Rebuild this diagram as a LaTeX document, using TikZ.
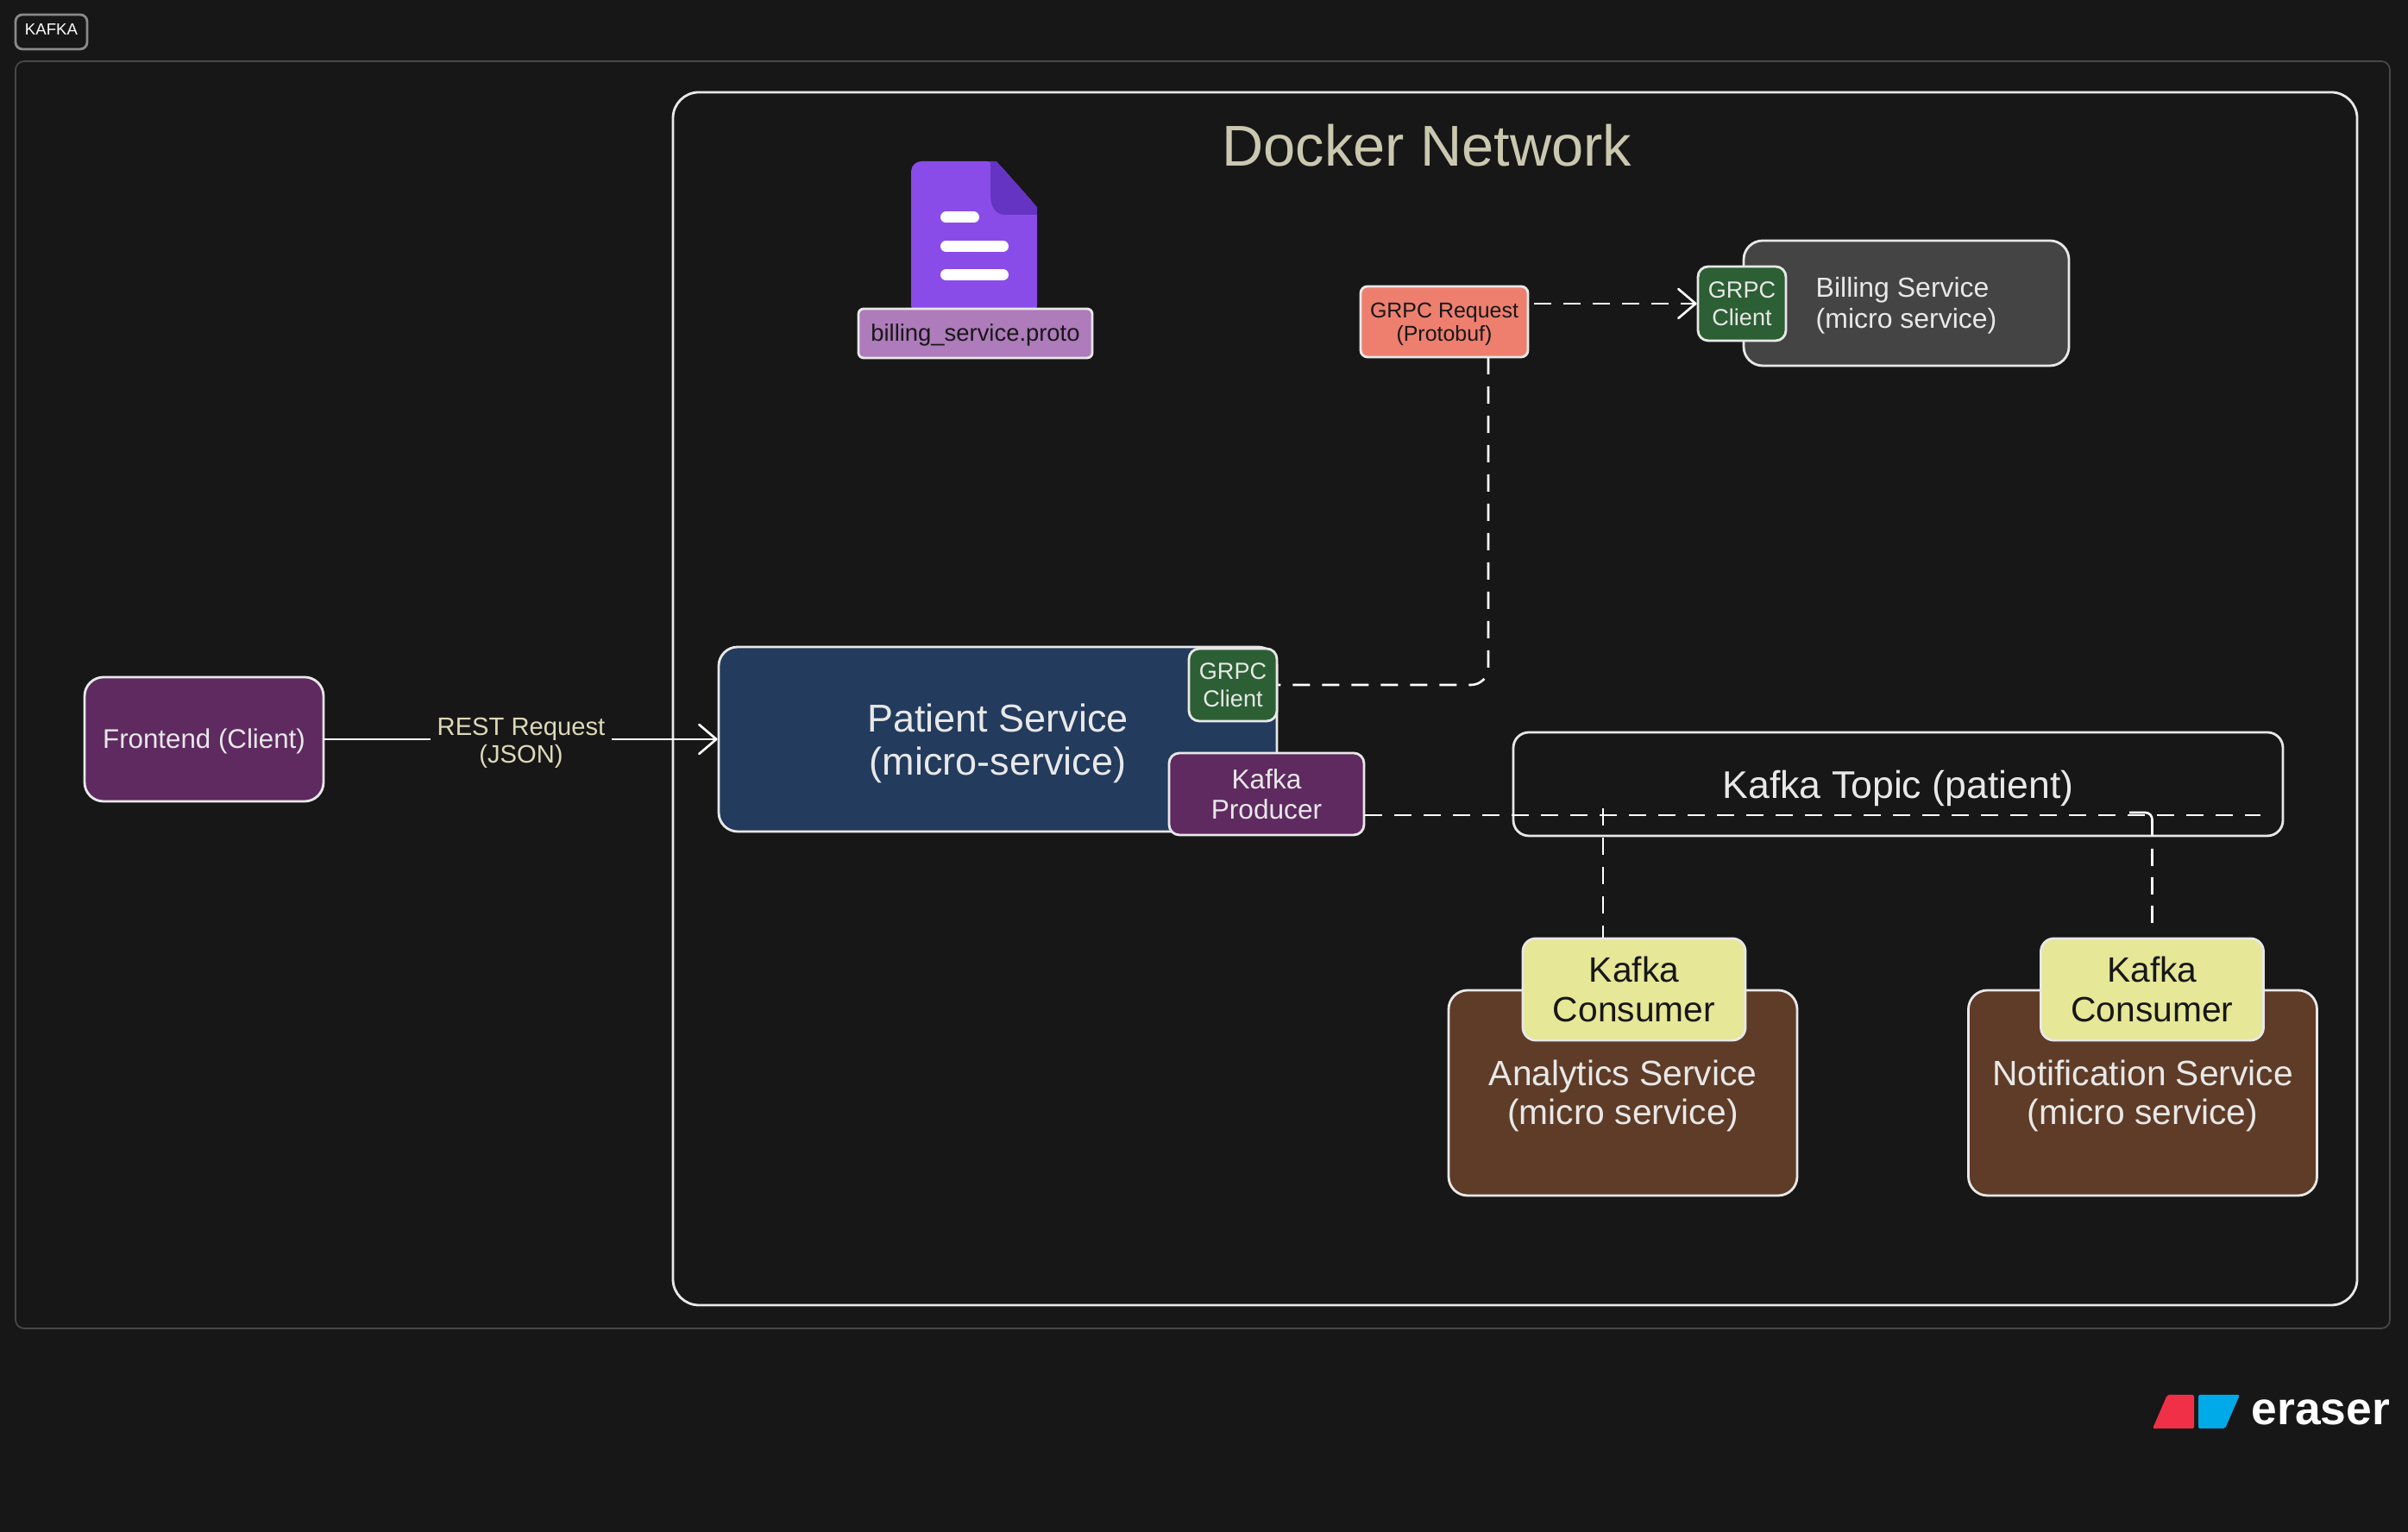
\documentclass[tikz,border=0pt]{standalone}
\usepackage{fontspec}
\setmainfont{Liberation Sans}
\usetikzlibrary{arrows.meta,positioning,calc}
\definecolor{bgdark}{HTML}{171717}
\definecolor{edge}{HTML}{E8E8E8}
\definecolor{framegray}{HTML}{45484A}
\definecolor{taggray}{HTML}{8A8A8A}
\definecolor{titlecol}{HTML}{CBC8B0}
\definecolor{restcol}{HTML}{DDD9B8}
\definecolor{patientblue}{HTML}{233B5D}
\definecolor{grpcgreen}{HTML}{2C5F34}
\definecolor{plum}{HTML}{5E2A60}
\definecolor{brownsvc}{HTML}{5F3C27}
\definecolor{billgray}{HTML}{444444}
\definecolor{salmon}{HTML}{EE7F6F}
\definecolor{lemon}{HTML}{E6E797}
\definecolor{orchid}{HTML}{AE7BBB}
\definecolor{docpurple}{HTML}{8A4CE8}
\definecolor{docfold}{HTML}{6634C2}
\definecolor{logored}{HTML}{F03046}
\definecolor{logoblue}{HTML}{00A9E8}
\newcommand{\fsz}[2]{\fontsize{#1}{#2}\selectfont}
\newcommand{\lowr}[1]{\rule{0pt}{\dimexpr.73em+#1\relax}}

\begin{document}
\begin{tikzpicture}[
    box/.style={rectangle, rounded corners=.22cm, draw=edge, line width=.8pt, inner sep=0pt, align=center, text=edge},
    port/.style={box, rounded corners=.12cm, fill=grpcgreen, minimum width=1.02cm, font=\fsz{7.7}{9.1}},
    svc/.style={box, fill=brownsvc, minimum width=4.04cm, minimum height=2.38cm, font=\fsz{11.6}{12.7}},
    consumer/.style={box, rounded corners=.15cm, fill=lemon, text=bgdark, minimum width=2.58cm, minimum height=1.18cm, font=\fsz{11.6}{13}},
    flow/.style={draw=white, line width=.75pt},
    dashline/.style={flow, dash pattern=on .2cm off .14cm},
    barb/.style={-{Straight Barb[length=.2cm, width=.34cm, round]}}
]

% Fond
\fill[bgdark] (0,0) rectangle (27.91,17.76);
\useasboundingbox (0,0) rectangle (27.91,17.76);

% Cadres
\draw[framegray, line width=.5pt, rounded corners=.1cm] (0.18,17.05) rectangle (27.70,2.36);
\node[box, draw=taggray, text=white, rounded corners=.08cm, minimum width=.83cm, minimum height=.40cm, text depth=.05cm, font=\fsz{5.3}{6}] (kafkatag) at (0.595,17.39) {KAFKA};
\node[box, rounded corners=.3cm, minimum width=19.52cm, minimum height=14.06cm] (docker) at (17.56,9.66) {};
\node[text=titlecol, font=\fsz{19}{23}, inner sep=0pt] (dockertitle) at (16.54,16.07) {Docker Network};

% Fichier proto
\fill[docpurple, rounded corners=.12cm] (10.56,14.10) -- (10.56,15.89) -- (11.55,15.89) -- (12.02,15.36) -- (12.02,14.10) -- cycle;
\fill[docfold] (11.48,15.89) -- (11.48,15.50) .. controls (11.48,15.35) and (11.55,15.27) .. (11.65,15.27) -- (12.02,15.27) -- (12.02,15.36) -- (11.55,15.89) -- cycle;
\foreach \y/\xend in {15.24/11.285, 14.905/11.625, 14.575/11.625} {
    \draw[white, line width=.13cm, line cap=round] (10.965,\y) -- (\xend,\y);
}
\node[box, rounded corners=.06cm, fill=orchid, text=bgdark, minimum width=2.71cm, minimum height=.57cm, font=\fsz{7.8}{9}] (protofile) at (11.305,13.895) {\lowr{.035cm}billing\_service.proto};

% Services
\node[box, fill=plum, minimum width=2.77cm, minimum height=1.44cm, font=\fsz{8.9}{10}] (frontend) at (2.365,9.19) {\lowr{.05cm}Frontend (Client)};
\node[box, fill=patientblue, minimum width=6.47cm, minimum height=2.14cm, font=\fsz{12.8}{14.2}] (patient) at (11.565,9.19) {\lowr{.1cm}Patient Service\\(micro-service)};
\node[box, fill=billgray, minimum width=3.77cm, minimum height=1.45cm] (billing) at (22.095,14.245) {};
\node[text=edge, anchor=west, align=left, inner sep=0pt, font=\fsz{9.1}{10.1}] (billinglabel) at (21.04,14.245) {\lowr{.055cm}Billing Service\\(micro service)};
\node[box, rounded corners=.18cm, minimum width=8.92cm, minimum height=1.20cm, font=\fsz{12.7}{14}] (topic) at (22.0,8.67) {\lowr{.1cm}Kafka Topic (patient)};
\node[svc] (analytics) at (18.81,5.09) {\lowr{.07cm}Analytics Service\\(micro service)};
\node[svc] (notification) at (24.835,5.09) {\lowr{.07cm}Notification Service\\(micro service)};

% Clients et consommateurs
\node[port, minimum height=.84cm] (clientpatient) at (14.29,9.82) {GRPC\\Client};
\node[port, minimum height=.86cm] (clientbilling) at (20.19,14.24) {GRPC\\Client};
\node[box, rounded corners=.12cm, fill=plum, minimum width=2.26cm, minimum height=.95cm, font=\fsz{9}{10.1}] (producer) at (14.68,8.555) {Kafka\\Producer};
\node[consumer] (consumera) at (18.94,6.29) {Kafka\\Consumer};
\node[consumer] (consumern) at (24.945,6.29) {Kafka\\Consumer};
\node[box, rounded corners=.08cm, fill=salmon, text=bgdark, minimum width=1.94cm, minimum height=.82cm, font=\fsz{7.1}{7.9}] (grpcreq) at (16.74,14.03) {\lowr{.05cm}GRPC Request\\(Protobuf)};

% Connexions
\coordinate (grpcdown) at (17.25,13.62);
\coordinate (topicend) at (26.20,8.31);
\coordinate (tapa) at (18.58,8.39);
\coordinate (tapn) at (24.68,8.34);

\draw[flow, barb] (frontend) -- node[fill=bgdark, text=restcol, inner xsep=.08cm, inner ysep=.02cm, align=center, font=\fsz{8.3}{9.1}] (restlabel) {\lowr{.07cm}REST Request\\(JSON)} (patient);
\draw[dashline, barb, shorten <=.06cm] (grpcreq.east |- clientbilling) -- (clientbilling);
\draw[dashline, rounded corners=.2cm] (grpcdown) -- (clientpatient -| grpcdown) -- (clientpatient);
\draw[dashline] (producer.east |- topicend) -- (topicend);
\draw[dashline] (tapa) -- (tapa |- consumera.north);
\draw[flow, dash pattern=on .5cm off .15cm on .2cm off .13cm on .2cm off .13cm on .2cm off .5cm, rounded corners=.08cm] (tapn) -- (tapn -| consumern) -- (consumern);

% Logo
\fill[logored, rounded corners=.02cm] (24.95,1.20) -- (25.12,1.59) -- (25.43,1.59) -- (25.43,1.20) -- cycle;
\fill[logoblue, rounded corners=.02cm] (25.48,1.59) -- (25.96,1.59) -- (25.79,1.20) -- (25.48,1.20) -- cycle;
\node[text=white, anchor=base west, inner sep=0pt, font=\fsz{15.2}{16}\bfseries] (eraser) at (26.09,1.24) {eraser};

\end{tikzpicture}
\end{document}
